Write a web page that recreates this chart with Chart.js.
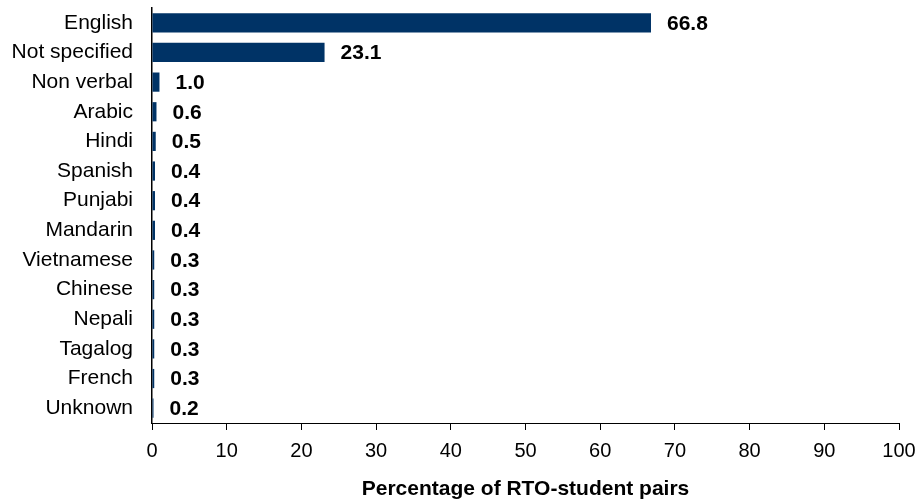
<!DOCTYPE html>
<html>
<head>
<meta charset="utf-8">
<script src="https://cdn.jsdelivr.net/npm/chart.js@4"></script>
<style>
  html, body { margin: 0; padding: 0; background: #fff; }
  #wrap { width: 918px; height: 502px; }
</style>
</head>
<body>
<div id="wrap"><canvas id="languageChart" width="918" height="502"></canvas></div>
<script>
const languages = ['English', 'Not specified', 'Non verbal', 'Arabic', 'Hindi', 'Spanish', 'Punjabi',
  'Mandarin', 'Vietnamese', 'Chinese', 'Nepali', 'Tagalog', 'French', 'Unknown'];
const percentages = [66.8, 23.1, 1.0, 0.6, 0.5, 0.4, 0.4, 0.4, 0.3, 0.3, 0.3, 0.3, 0.3, 0.2];
const xTicks = [0, 10, 20, 30, 40, 50, 60, 70, 80, 90, 100];

const FONT = "'Liberation Sans', Arial, sans-serif";

// bold numbers just right of each bar
const valueLabels = {
  id: 'valueLabels',
  afterDatasetsDraw(chart) {
    const ctx = chart.ctx;
    const meta = chart.getDatasetMeta(0);
    ctx.save();
    ctx.font = 'bold 21px ' + FONT;
    ctx.fillStyle = '#000';
    ctx.textAlign = 'left';
    ctx.textBaseline = 'middle';
    meta.data.forEach((bar, i) => {
      ctx.fillText(percentages[i].toFixed(1), bar.x + 16, bar.y + 1);
    });
    ctx.restore();
  }
};

new Chart('languageChart', {
  type: 'bar',
  data: {
    labels: languages,
    datasets: [{
      data: percentages,
      backgroundColor: '#003366',
      barPercentage: 0.8,
      categoryPercentage: 0.81
    }]
  },
  options: {
    indexAxis: 'y',
    responsive: false,
    animation: false,
    devicePixelRatio: 1,
    layout: { padding: { top: 8, right: 19, bottom: 0, left: 0 } },
    plugins: { legend: { display: false }, tooltip: { enabled: false } },
    scales: {
      x: {
        min: 0,
        max: 100,
        afterBuildTicks: (s) => { s.ticks = xTicks.map(v => ({ value: v })); },
        afterFit: (s) => {
          s.height = 79;
          s.paddingLeft = 0;
          s.paddingRight = 0;
        },
        grid: { drawOnChartArea: false, drawTicks: true, tickLength: 7, color: '#000' },
        border: { color: '#000', width: 1 },
        ticks: { color: '#000', padding: 9, font: { family: FONT, size: 20 } },
        title: {
          display: true,
          text: 'Percentage of RTO-student pairs',
          color: '#000',
          padding: { top: 0, bottom: 0 },
          font: { family: FONT, size: 21, weight: 'bold' }
        }
      },
      y: {
        afterFit: (s) => {
          s.width = 152;
          s.paddingTop = 0;
          s.paddingBottom = 0;
        },
        grid: { display: false, drawTicks: false },
        border: { display: true, color: '#000', width: 1.5 },
        ticks: { color: '#000', padding: 19, font: { family: FONT, size: 21 } }
      }
    }
  },
  plugins: [valueLabels]
});
</script>
</body>
</html>
